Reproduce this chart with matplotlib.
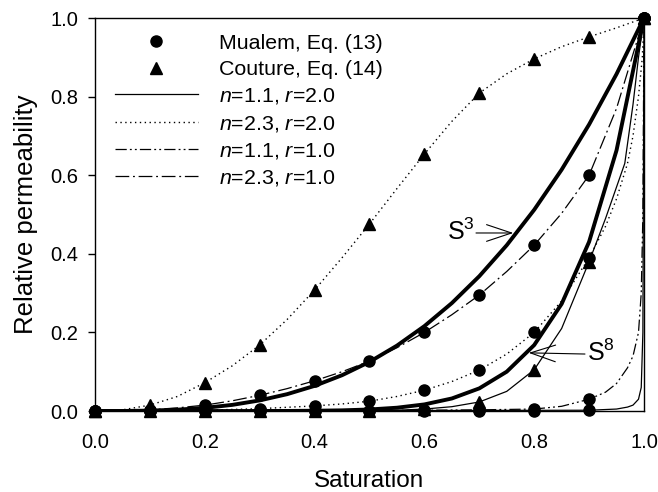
import matplotlib
matplotlib.use("Agg")
from matplotlib import pyplot as plt
from matplotlib.lines import Line2D
from matplotlib.patches import ArrowStyle

plt.rcParams["font.family"] = ["Liberation Sans", "DejaVu Sans"]
plt.rcParams["mathtext.fontset"] = "custom"
plt.rcParams["mathtext.rm"] = "Liberation Sans"
plt.rcParams["mathtext.it"] = "Liberation Sans:italic"

# marker positions (saturation)
S_PTS = [0.0, 0.1, 0.2, 0.3, 0.4, 0.5, 0.6, 0.7, 0.8, 0.9, 1.0]

# Mualem, Eq. (13)
MUALEM_N23_R1 = [0, 0.003, 0.015, 0.04, 0.076, 0.127, 0.2, 0.295, 0.422, 0.6, 1.0]
MUALEM_N23_R2 = [0, 0.0005, 0.002, 0.006, 0.013, 0.025, 0.053, 0.104, 0.2, 0.39, 1.0]
MUALEM_N11_R1 = [0, 0, 0, 0, 0, 0.001, 0.002, 0.003, 0.005, 0.03, 1.0]
MUALEM_N11_R2 = [0, 0, 0, 0, 0, 0, 0, 0, 0, 0.002, 1.0]

# Couture, Eq. (14)
COUTURE_N23_R2 = [0, 0.015, 0.072, 0.168, 0.308, 0.476, 0.654, 0.809, 0.896, 0.952, 1.0]
COUTURE_N11_R2 = [0, 0, 0, 0, 0, 0.001, 0.005, 0.023, 0.105, 0.38, 1.0]

# curves
S_FINE = [0.0, 0.05, 0.1, 0.15, 0.2, 0.25, 0.3, 0.35, 0.4, 0.45, 0.5,
          0.55, 0.6, 0.65, 0.7, 0.75, 0.8, 0.85, 0.9, 0.95, 1.0]
S3_CURVE = [0, 0.0001, 0.001, 0.0034, 0.008, 0.0156, 0.027, 0.0429, 0.064, 0.0911, 0.125,
            0.1664, 0.216, 0.2746, 0.343, 0.4219, 0.512, 0.6141, 0.729, 0.8574, 1.0]
S8_CURVE = [0, 0, 0, 0, 0, 0, 0.0001, 0.0002, 0.0007, 0.0017, 0.0039,
            0.0084, 0.0168, 0.0319, 0.0576, 0.1001, 0.1678, 0.2725, 0.4305, 0.6634, 1.0]
COUT_DOT_CURVE = [0, 0.003, 0.015, 0.037, 0.072, 0.115, 0.168, 0.233, 0.308, 0.39, 0.476,
                  0.566, 0.654, 0.737, 0.809, 0.858, 0.896, 0.927, 0.952, 0.975, 1.0]
MUAL_DASHDOT_CURVE = [0, 0.0005, 0.003, 0.008, 0.015, 0.026, 0.04, 0.057, 0.077, 0.1, 0.127,
                      0.161, 0.2, 0.245, 0.295, 0.355, 0.422, 0.503, 0.6, 0.77, 1.0]

S_B = [0.0, 0.1, 0.2, 0.3, 0.4, 0.45, 0.5, 0.55, 0.6, 0.65, 0.7, 0.75, 0.8, 0.85,
       0.9, 0.93, 0.95, 0.97, 0.98, 0.99, 0.997, 1.0]
MUAL_DOT_CURVE = [0, 0.0005, 0.002, 0.006, 0.013, 0.018, 0.025, 0.037, 0.053, 0.075, 0.104,
                  0.145, 0.2, 0.28, 0.39, 0.47, 0.54, 0.63, 0.7, 0.8, 0.9, 1.0]

S_C = [0.0, 0.5, 0.6, 0.7, 0.8, 0.85, 0.9, 0.93, 0.95, 0.97, 0.98, 0.99, 0.995, 0.998, 1.0]
MUAL_DDD_CURVE = [0, 0.001, 0.002, 0.003, 0.005, 0.012, 0.03, 0.048, 0.07, 0.11, 0.14,
                  0.2, 0.3, 0.5, 1.0]

S_D = [0.0, 0.9, 0.95, 0.97, 0.98, 0.99, 0.995, 0.998, 1.0]
MUAL_SOLID_CURVE = [0, 0.002, 0.005, 0.01, 0.015, 0.03, 0.06, 0.2, 1.0]

S_E = [0.0, 0.4, 0.5, 0.55, 0.6, 0.65, 0.7, 0.75, 0.8, 0.85, 0.9, 0.93, 0.965, 0.98, 0.99, 1.0]
COUT_SOLID_CURVE = [0, 0, 0.001, 0.002, 0.005, 0.011, 0.023, 0.05, 0.105, 0.21, 0.38,
                    0.49, 0.63, 0.78, 0.9, 1.0]

LEGEND_LABELS = ["Mualem, Eq. (13)", "Couture, Eq. (14)",
                 "$n$=1.1, $r$=2.0", "$n$=2.3, $r$=2.0",
                 "$n$=1.1, $r$=1.0", "$n$=2.3, $r$=1.0"]

LS_SOLID = "-"
LS_DOT = (0, (1, 2.5))
LS_DDD = (0, (9, 2.5, 1.5, 2.5, 1.5, 2.5))
LS_DD = (0, (11, 3, 1.5, 3))

fig = plt.figure(figsize=(6.58, 4.92), dpi=100)
ax = fig.add_axes([0.1444, 0.1646, 0.9787 - 0.1444, 0.9634 - 0.1646])

thin = 0.9
ax.plot(S_FINE, S3_CURVE, color="black", lw=2.8, solid_capstyle="butt")
ax.plot(S_FINE, S8_CURVE, color="black", lw=2.8, solid_capstyle="butt")
ax.plot(S_FINE, COUT_DOT_CURVE, color="black", lw=1.0, ls=LS_DOT)
ax.plot(S_FINE, MUAL_DASHDOT_CURVE, color="black", lw=thin, ls=LS_DD)
ax.plot(S_B, MUAL_DOT_CURVE, color="black", lw=1.0, ls=LS_DOT)
ax.plot(S_C, MUAL_DDD_CURVE, color="black", lw=thin, ls=LS_DDD)
ax.plot(S_D, MUAL_SOLID_CURVE, color="black", lw=thin, ls=LS_SOLID)
ax.plot(S_E, COUT_SOLID_CURVE, color="black", lw=thin, ls=LS_SOLID)

for ys in (MUALEM_N23_R1, MUALEM_N23_R2, MUALEM_N11_R1, MUALEM_N11_R2):
    ax.plot(S_PTS, ys, "o", color="black", ms=8, ls="none", clip_on=False, zorder=5)
for ys in (COUTURE_N23_R2, COUTURE_N11_R2):
    ax.plot(S_PTS, ys, "^", color="black", ms=8.5, ls="none", clip_on=False, zorder=5)

# S^3 / S^8 labels with open arrows
head = ArrowStyle("->", head_length=0.9, head_width=0.3)
ax.annotate("", xy=(0.762, 0.453), xytext=(0.694, 0.453),
            arrowprops=dict(arrowstyle=head, lw=0.8, color="black",
                            shrinkA=0, shrinkB=0, mutation_scale=20))
ax.text(0.692, 0.455, "S$^3$", ha="right", va="center", fontsize=18)
ax.annotate("", xy=(0.79, 0.148), xytext=(0.8925, 0.145),
            arrowprops=dict(arrowstyle=head, lw=0.8, color="black",
                            shrinkA=0, shrinkB=0, mutation_scale=20))
ax.text(0.897, 0.148, "S$^8$", ha="left", va="center", fontsize=18)

handles = [
    Line2D([], [], marker="o", color="black", ls="none", ms=8),
    Line2D([], [], marker="^", color="black", ls="none", ms=8.5),
    Line2D([], [], color="black", lw=thin, ls=LS_SOLID),
    Line2D([], [], color="black", lw=1.0, ls=LS_DOT),
    Line2D([], [], color="black", lw=thin, ls=LS_DDD),
    Line2D([], [], color="black", lw=thin, ls=LS_DD),
]
ax.legend(handles, LEGEND_LABELS, loc="upper left", bbox_to_anchor=(0.036, 0.960),
          frameon=False, fontsize=15.4, handlelength=3.9, handletextpad=0.95,
          labelspacing=0.34, borderpad=0, borderaxespad=0)

ax.set_xlim(0, 1)
ax.set_ylim(0, 1)
ax.set_xticks([0.0, 0.2, 0.4, 0.6, 0.8, 1.0])
ax.set_yticks([0.0, 0.2, 0.4, 0.6, 0.8, 1.0])
ax.set_xticklabels([f"{v:.1f}" for v in ax.get_xticks()])
ax.set_yticklabels([f"{v:.1f}" for v in ax.get_yticks()])
ax.tick_params(axis="y", direction="out", length=5, width=1, labelsize=14.5, pad=7)
ax.tick_params(axis="x", length=0, labelsize=14.5, pad=16)
for sp in ax.spines.values():
    sp.set_linewidth(1.0)

ax.set_xlabel("Saturation", fontsize=17.5, labelpad=13)
ax.set_ylabel("Relative permeability", fontsize=18.5, labelpad=9)

fig.savefig("out.png", dpi=100)
